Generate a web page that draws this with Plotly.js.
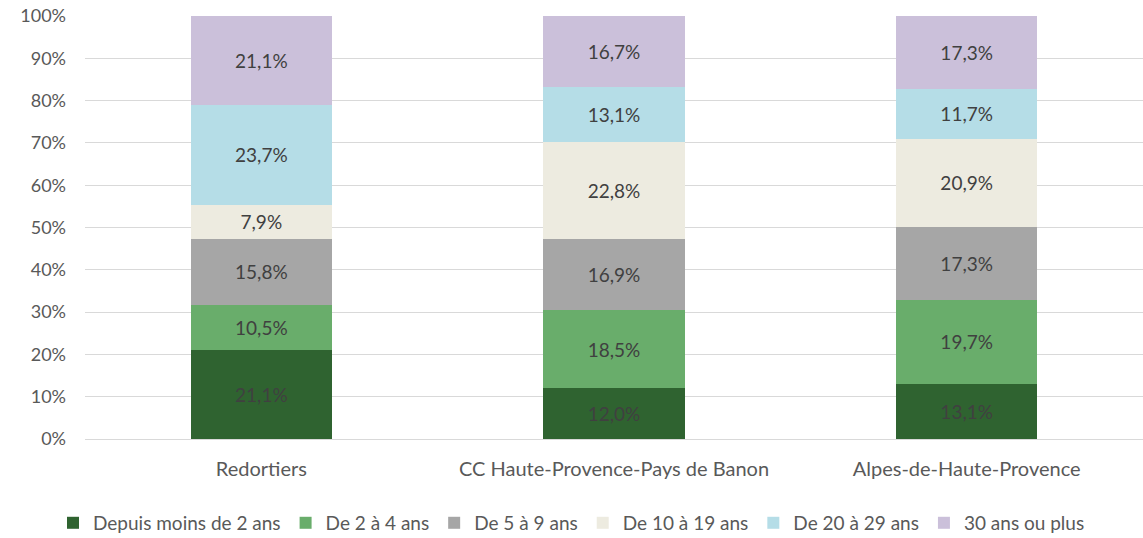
<!DOCTYPE html>
<html>
<head>
<meta charset="utf-8">
<script src="https://cdn.plot.ly/plotly-3.0.1.min.js"></script>
<style>
  html, body { margin: 0; padding: 0; background: #fff; }
  #chart { width: 1143px; height: 538px; }
</style>
</head>
<body>
<div id="chart"></div>
<script>
// territories on the x axis
var territoires = ["Redortiers", "CC Haute-Provence-Pays de Banon", "Alpes-de-Haute-Provence"];

// share of households by length of residence (%)
var moins2 = [21.1, 12.0, 13.1];
var de2a4 = [10.5, 18.5, 19.7];
var de5a9 = [15.8, 16.9, 17.3];
var de10a19 = [7.9, 22.8, 20.9];
var de20a29 = [23.7, 13.1, 11.7];
var plus30 = [21.1, 16.7, 17.3];

var noms = ["Depuis moins de 2 ans", "De 2 à 4 ans", "De 5 à 9 ans", "De 10 à 19 ans", "De 20 à 29 ans", "30 ans ou plus"];
var couleurs = ["#2F6330", "#69AD6B", "#A6A6A6", "#EDEBE0", "#B5DDE7", "#CBC0DA"];
var series = [moins2, de2a4, de5a9, de10a19, de20a29, plus30];

function fmt(v) {
    return v.toFixed(1).replace(".", ",") + "%";
}

var data = [];
for (var i = 0; i < series.length; i++) {
    data.push({
        type: "bar",
        x: territoires,
        y: series[i],
        name: noms[i],
        marker: { color: couleurs[i] },
        text: series[i].map(fmt),
        textposition: "inside",
        insidetextanchor: "middle",
        textfont: { color: "#404040", size: 19 },
        hoverinfo: "none"
    });
}

var layout = {
    width: 1143,
    height: 538,
    barmode: "stack",
    bargap: 0.6,
    font: { family: "Lato, sans-serif", size: 18, color: "#595959" },
    margin: { l: 85, r: 0, t: 16, b: 99 },
    paper_bgcolor: "#fff",
    plot_bgcolor: "#fff",
    showlegend: true,
    legend: {
        orientation: "h",
        x: 0.5,
        xanchor: "center",
        xref: "container",
        y: 0.028,
        yanchor: "middle",
        yref: "container",
        font: { size: 19, color: "#595959" },
        traceorder: "normal",
        itemwidth: 30,
        tracegroupgap: 0
    },
    xaxis: {
        tickfont: { size: 20, color: "#595959" },
        showline: true,
        linecolor: "#D9D9D9",
        ticks: "",
        ticklabelstandoff: 12
    },
    yaxis: {
        range: [0, 100],
        dtick: 10,
        ticksuffix: "%",
        tickfont: { size: 18, color: "#595959" },
        gridcolor: "#D9D9D9",
        zeroline: false,
        ticks: "",
        ticklabelstandoff: 18
    }
};

Plotly.newPlot("chart", data, layout, { staticPlot: true });
</script>
</body>
</html>
